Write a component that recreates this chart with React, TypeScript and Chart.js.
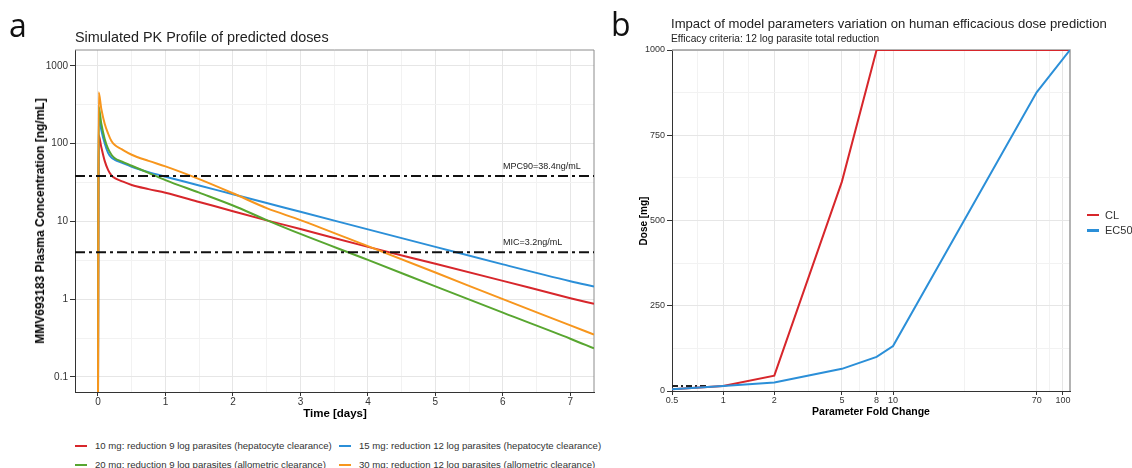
import React, { useEffect, useRef } from 'react';
import { Chart, registerables } from 'chart.js';

Chart.register(...registerables);

const FONT = "'Liberation Sans', Arial, Helvetica, sans-serif";

// ---------- Panel a: simulated PK profiles ----------
const TIME_DAYS = [0, 0.01, 0.05, 0.1, 0.15, 0.2, 0.25, 0.35, 0.5, 0.75, 1, 1.5, 2, 2.5, 3, 4, 5, 6, 7, 7.35];
const CONC_10MG = [0.02, 129, 90, 60, 46, 39, 36, 33, 29.4, 26, 23.4, 17.8, 13.5, 10.3, 8.0, 4.7, 2.85, 1.72, 1.03, 0.87];
const CONC_15MG = [0.02, 234, 150, 101, 76, 66, 62, 57, 50.5, 43, 37.6, 29, 22.3, 17.2, 13.3, 7.9, 4.7, 2.8, 1.7, 1.45];
const CONC_20MG = [0.02, 300, 180, 115, 86, 72, 65, 59, 52, 42, 34, 23.4, 16, 10.4, 6.9, 3.2, 1.46, 0.67, 0.31, 0.233];
const CONC_30MG = [0.02, 458, 280, 180, 135, 108, 96, 85, 72, 60, 51, 35, 23, 14.8, 10.4, 4.8, 2.2, 1.0, 0.46, 0.35];
const SERIES_LABELS = [
  '10 mg: reduction 9 log parasites (hepatocyte clearance)',
  '15 mg: reduction 12 log parasites (hepatocyte clearance)',
  '20 mg: reduction 9 log parasites (allometric clearance)',
  '30 mg: reduction 12 log parasites (allometric clearance)',
];
const SERIES_VALUES = [CONC_10MG, CONC_15MG, CONC_20MG, CONC_30MG];
const SERIES_COLORS = ['#d7262b', '#2b8fd8', '#58a630', '#f7961d'];

const REF_VALUES = [38.4, 4.0];
const REF_LABELS = ['MPC90=38.4ng/mL', 'MIC=3.2ng/mL'];
const REF_LABEL_T = 6;

const A_X_MIN = -0.34;
const A_X_MAX = 7.35;
const A_Y_MIN = 0.064;
const A_Y_MAX = 1600;
const A_X_TICKS = [0, 0.5, 1, 1.5, 2, 2.5, 3, 3.5, 4, 4.5, 5, 5.5, 6, 6.5, 7];
const A_X_MAJOR = [0, 1, 2, 3, 4, 5, 6, 7];
const A_Y_TICKS = [0.1, 0.316, 1, 3.16, 10, 31.6, 100, 316, 1000];
const A_Y_MAJOR = [0.1, 1, 10, 100, 1000];

// ---------- Panel b: dose sensitivity ----------
const FOLD_CHANGE = [0.5, 1, 2, 5, 8, 10, 70, 110];
const DOSE_CL = [5, 15, 45, 614, 1000, 1000, 1000, 1000];
const DOSE_EC50 = [5, 15, 25, 65, 100, 132, 876, 1000];
const B_SERIES_LABELS = ['CL', 'EC50'];
const B_SERIES_COLORS = ['#d7262b', '#2b8fd8'];
const BASE_FOLD = [0.5, 0.8];
const BASE_DOSE = [15, 15];

const B_X_MIN = 0.5;
const B_X_MAX = 110;
const B_X_TICKS = [0.5, 0.707, 1, 1.414, 2, 3.16, 5, 6.32, 8, 8.94, 10, 26.5, 70, 83.7, 100];
const B_X_MAJOR = [0.5, 1, 2, 5, 8, 10, 70, 100];
const B_Y_TICKS = [0, 125, 250, 375, 500, 625, 750, 875, 1000];
const B_Y_MAJOR = [0, 250, 500, 750, 1000];

const GRID_MAJOR = '#e6e6e6';
const GRID_MINOR = '#f2f2f2';
const AXIS_COLOR = '#333333';

const isIn = (arr: number[], v: number) => arr.some((m) => Math.abs(m - v) < 1e-9);

function framePlugin(width: number, color: string) {
  return {
    id: 'frame',
    beforeDatasetsDraw(chart: any) {
      const { ctx, chartArea: a } = chart;
      ctx.save();
      ctx.strokeStyle = color;
      ctx.lineWidth = width;
      ctx.beginPath();
      ctx.moveTo(a.left, a.top);
      ctx.lineTo(a.right, a.top);
      ctx.lineTo(a.right, a.bottom);
      ctx.stroke();
      ctx.restore();
    },
  };
}

const refLabelPlugin = {
  id: 'refLabels',
  afterDatasetsDraw(chart: any) {
    const { ctx } = chart;
    const xs = chart.scales.x;
    const ys = chart.scales.y;
    ctx.save();
    ctx.font = `9px ${FONT}`;
    ctx.fillStyle = '#222';
    ctx.textAlign = 'left';
    ctx.textBaseline = 'middle';
    REF_VALUES.forEach((v, i) => {
      ctx.fillText(REF_LABELS[i], xs.getPixelForValue(REF_LABEL_T), ys.getPixelForValue(v) - 9.5);
    });
    ctx.restore();
  },
};

function axisOpts(opts: {
  type: string; min: number; max: number; ticks: number[]; major: number[];
  fontSize: number; tickLength: number; padding: number; fit: (s: any) => void;
}) {
  return {
    type: opts.type,
    min: opts.min,
    max: opts.max,
    afterBuildTicks: (s: any) => {
      s.ticks = opts.ticks.map((v) => ({ value: v }));
    },
    afterFit: opts.fit,
    ticks: {
      autoSkip: false,
      maxRotation: 0,
      minRotation: 0,
      padding: opts.padding,
      color: '#333',
      font: { family: FONT, size: opts.fontSize },
      callback: (v: number) => (isIn(opts.major, v) ? String(v) : ''),
    },
    grid: {
      color: (c: any) => (c.tick && isIn(opts.major, c.tick.value) ? GRID_MAJOR : GRID_MINOR),
      tickColor: (c: any) => (c.tick && isIn(opts.major, c.tick.value) ? AXIS_COLOR : 'rgba(0,0,0,0)'),
      tickLength: opts.tickLength,
      lineWidth: 1,
    },
    border: { display: true, color: AXIS_COLOR, width: 1 },
  };
}

function configA(): any {
  const datasets: any[] = SERIES_VALUES.map((vals, i) => ({
    label: SERIES_LABELS[i],
    data: TIME_DAYS.map((t, j) => ({ x: t, y: vals[j] })),
    borderColor: SERIES_COLORS[i],
    borderWidth: 2,
    pointRadius: 0,
    cubicInterpolationMode: 'monotone',
    order: 4 - i,
  }));
  REF_VALUES.forEach((v) => {
    datasets.push({
      label: 'ref',
      data: [{ x: A_X_MIN, y: v }, { x: A_X_MAX, y: v }],
      borderColor: '#111',
      borderWidth: 2,
      borderDash: [10, 4, 3, 4],
      pointRadius: 0,
      order: 0,
    });
  });
  return {
    type: 'line',
    data: { datasets },
    plugins: [framePlugin(1, '#8c8c8c'), refLabelPlugin],
    options: {
      responsive: false,
      animation: false,
      events: [],
      layout: { padding: { left: 0, top: 50, right: 6, bottom: 0 } },
      plugins: { legend: { display: false }, tooltip: { enabled: false }, title: { display: false } },
      scales: {
        x: axisOpts({
          type: 'linear', min: A_X_MIN, max: A_X_MAX, ticks: A_X_TICKS, major: A_X_MAJOR,
          fontSize: 10, tickLength: 4, padding: 0, fit: (s: any) => { s.height = 38; },
        }),
        y: axisOpts({
          type: 'logarithmic', min: A_Y_MIN, max: A_Y_MAX, ticks: A_Y_TICKS, major: A_Y_MAJOR,
          fontSize: 10, tickLength: 5, padding: 2, fit: (s: any) => { s.width = 75; },
        }),
      },
    },
  };
}

function configB(): any {
  const vals = [DOSE_CL, DOSE_EC50];
  const datasets: any[] = vals.map((v, i) => ({
    label: B_SERIES_LABELS[i],
    data: FOLD_CHANGE.map((f, j) => ({ x: f, y: v[j] })),
    borderColor: B_SERIES_COLORS[i],
    borderWidth: 2,
    pointRadius: 0,
    tension: 0,
    order: 2 - i,
  }));
  datasets.push({
    label: 'base',
    data: BASE_FOLD.map((f, j) => ({ x: f, y: BASE_DOSE[j] })),
    borderColor: '#222',
    borderWidth: 2,
    borderDash: [6, 3, 2, 3],
    pointRadius: 0,
    order: 3,
  });
  return {
    type: 'line',
    data: { datasets },
    plugins: [framePlugin(1.5, '#9a9a9a')],
    options: {
      responsive: false,
      animation: false,
      events: [],
      layout: { padding: { left: 0, top: 50, right: 62, bottom: 0 } },
      plugins: { legend: { display: false }, tooltip: { enabled: false }, title: { display: false } },
      scales: {
        x: axisOpts({
          type: 'logarithmic', min: B_X_MIN, max: B_X_MAX, ticks: B_X_TICKS, major: B_X_MAJOR,
          fontSize: 9, tickLength: 4, padding: 0, fit: (s: any) => { s.height = 39; },
        }),
        y: axisOpts({
          type: 'linear', min: 0, max: 1000, ticks: B_Y_TICKS, major: B_Y_MAJOR,
          fontSize: 9, tickLength: 5, padding: 2, fit: (s: any) => { s.width = 72; },
        }),
      },
    },
  };
}

function ChartCanvas(props: { make: () => any; left: number; top: number; width: number; height: number }) {
  const ref = useRef<HTMLCanvasElement>(null);
  useEffect(() => {
    const chart = new Chart(ref.current as HTMLCanvasElement, props.make());
    return () => chart.destroy();
  }, []);
  return (
    <canvas
      ref={ref}
      width={props.width}
      height={props.height}
      style={{ position: 'absolute', left: props.left, top: props.top, width: props.width, height: props.height }}
    />
  );
}

const textBase: React.CSSProperties = {
  position: 'absolute',
  fontFamily: FONT,
  lineHeight: 1,
  whiteSpace: 'nowrap',
  color: '#222',
};

export default function App() {
  const legendPos = [
    { x: 75, y: 446 },
    { x: 339, y: 446 },
    { x: 75, y: 465 },
    { x: 339, y: 465 },
  ];
  return (
    <div style={{ position: 'absolute', left: 0, top: 0, width: 1132, height: 468, overflow: 'hidden', background: '#fff' }}>
      <ChartCanvas make={configA} left={0} top={0} width={600} height={430} />
      <ChartCanvas make={configB} left={600} top={0} width={532} height={430} />

      <div style={{ ...textBase, left: 9, top: 9, fontSize: 32, fontFamily: "'Open Sans', sans-serif", color: '#111' }}>a</div>
      <div style={{ ...textBase, left: 611, top: 8, fontSize: 32, fontFamily: "'Open Sans', sans-serif", color: '#111' }}>b</div>

      <div style={{ ...textBase, left: 75, top: 30, fontSize: 14.4 }}>Simulated PK Profile of predicted doses</div>
      <div style={{ ...textBase, left: 671, top: 16.5, fontSize: 13.1 }}>
        Impact of model parameters variation on human efficacious dose prediction
      </div>
      <div style={{ ...textBase, left: 671, top: 34, fontSize: 10.2 }}>Efficacy criteria: 12 log parasite total reduction</div>

      <div style={{ ...textBase, left: 335, top: 414, fontSize: 11.5, fontWeight: 'bold', color: '#000', transform: 'translate(-50%,-50%)' }}>
        Time [days]
      </div>
      <div style={{ ...textBase, left: 40, top: 221, fontSize: 12, fontWeight: 'bold', color: '#000', transform: 'translate(-50%,-50%) rotate(-90deg)' }}>
        MMV693183 Plasma Concentration [ng/mL]
      </div>
      <div style={{ ...textBase, left: 871, top: 410.5, fontSize: 10.5, fontWeight: 'bold', color: '#000', transform: 'translate(-50%,-50%)' }}>
        Parameter Fold Change
      </div>
      <div style={{ ...textBase, left: 644, top: 221, fontSize: 10, fontWeight: 'bold', color: '#000', transform: 'translate(-50%,-50%) rotate(-90deg)' }}>
        Dose [mg]
      </div>

      {SERIES_LABELS.map((lab, i) => (
        <React.Fragment key={lab}>
          <div style={{ position: 'absolute', left: legendPos[i].x, top: legendPos[i].y - 1.25, width: 12, height: 2.5, background: SERIES_COLORS[i] }} />
          <div style={{ ...textBase, left: legendPos[i].x + 20, top: legendPos[i].y - 5, fontSize: 9.6, color: '#333' }}>{lab}</div>
        </React.Fragment>
      ))}

      {B_SERIES_LABELS.map((lab, i) => (
        <React.Fragment key={lab}>
          <div style={{ position: 'absolute', left: 1087, top: 215 + i * 15.5 - 1.25, width: 12, height: 2.5, background: B_SERIES_COLORS[i] }} />
          <div style={{ ...textBase, left: 1105, top: 215 + i * 15.5 - 5.5, fontSize: 11, color: '#333' }}>{lab}</div>
        </React.Fragment>
      ))}
    </div>
  );
}
